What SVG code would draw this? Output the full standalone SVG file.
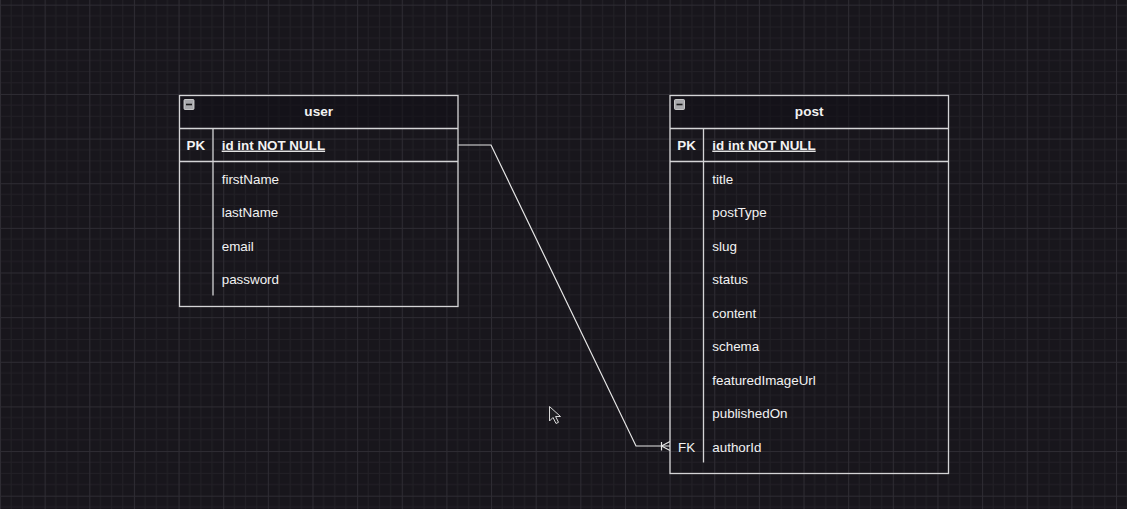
<svg xmlns="http://www.w3.org/2000/svg" width="1127" height="509" viewBox="0 0 1127 509">
<defs>
<pattern id="grid" patternUnits="userSpaceOnUse" x="0" y="4.66" width="44.64" height="44.64">
<path d="M11.16 0V44.64M22.32 0V44.64M33.48 0V44.64M0 11.16H44.64M0 22.32H44.64M0 33.48H44.64" stroke="#222026" stroke-width="1" fill="none"/>
<path d="M0.5 0V44.64M0 0.5H44.64" stroke="#2e2c33" stroke-width="1" fill="none"/>
</pattern>
<style>
.frame{fill:none;stroke:#d4d4d6;stroke-width:1.3}
.head{fill:#131117;fill-opacity:0.55}
.div{stroke:#d4d4d6;stroke-width:1.3;fill:none}
.t{font-family:"Liberation Sans",Arial,sans-serif;font-size:13.4px;fill:#f2f2f2}
.b{font-weight:bold}
.title{font-family:"Liberation Sans",Arial,sans-serif;font-size:13.6px;font-weight:bold;fill:#f2f2f2;text-anchor:middle}
.u{text-decoration:underline}
.conn{fill:none;stroke:#e6e6e6;stroke-width:1.2}
</style>
<g id="minbtn">
<rect x="0" y="0" width="10" height="10" rx="1" fill="#a9a9ad" stroke="#e0e0e0" stroke-width="0.8"/>
<line x1="2" y1="5" x2="8" y2="5" stroke="#1c1c1c" stroke-width="1.6"/>
</g>
</defs>
<rect width="1127" height="509" fill="#18161c"/>
<rect width="1127" height="509" fill="url(#grid)"/>

<g id="user">
<rect class="head" x="179.5" y="95.5" width="278.5" height="33"/>
<rect class="frame" x="179.5" y="95.5" width="278.5" height="211"/>
<line class="div" x1="179.5" y1="128.5" x2="458" y2="128.5"/>
<line class="div" x1="179.5" y1="161.5" x2="458" y2="161.5"/>
<line class="div" x1="213" y1="128.5" x2="213" y2="161.5"/>
<line class="div" x1="213" y1="161.5" x2="213" y2="295.5"/>
<use href="#minbtn" x="184" y="99.5"/>
<text class="title" x="318.7" y="116.3">user</text>
<text class="t b" x="186.5" y="149.6">PK</text>
<text class="t b u" x="221.7" y="149.6">id int NOT NULL</text>
<text class="t" x="221.7" y="183.6">firstName</text>
<text class="t" x="221.7" y="217.1">lastName</text>
<text class="t" x="221.7" y="250.6">email</text>
<text class="t" x="221.7" y="284.1">password</text>
</g>

<g id="post">
<rect class="head" x="670" y="95.5" width="278.5" height="33"/>
<rect class="frame" x="670" y="95.5" width="278.5" height="378"/>
<line class="div" x1="670" y1="128.5" x2="948.5" y2="128.5"/>
<line class="div" x1="670" y1="161.5" x2="948.5" y2="161.5"/>
<line class="div" x1="703.5" y1="128.5" x2="703.5" y2="161.5"/>
<line class="div" x1="703.5" y1="161.5" x2="703.5" y2="462.5"/>
<use href="#minbtn" x="674.5" y="99.5"/>
<text class="title" x="809.2" y="116.3">post</text>
<text class="t b" x="677.3" y="149.6">PK</text>
<text class="t b u" x="712.3" y="149.6">id int NOT NULL</text>
<text class="t" x="712.3" y="183.6">title</text>
<text class="t" x="712.3" y="217.1">postType</text>
<text class="t" x="712.3" y="250.6">slug</text>
<text class="t" x="712.3" y="284.1">status</text>
<text class="t" x="712.3" y="317.6">content</text>
<text class="t" x="712.3" y="351.1">schema</text>
<text class="t" x="712.3" y="384.6">featuredImageUrl</text>
<text class="t" x="712.3" y="418.1">publishedOn</text>
<text class="t" x="678" y="451.6">FK</text>
<text class="t" x="712.3" y="451.6">authorId</text>
</g>

<g id="connectors">
<polyline class="conn" points="458,145 491,145 636,446 670,446"/>
<path class="conn" d="M661.5 442V450.5M661.5 446L670 441.5M661.5 446L670 450.5"/>
</g>

<g id="cursor">
<path d="M549.5 406.5V421L553 417.5L556 423.5L558.5 422.3L555.6 416.5H560.5Z" fill="#1e1e22" stroke="#d8d8d8" stroke-width="1"/>
</g>
</svg>
